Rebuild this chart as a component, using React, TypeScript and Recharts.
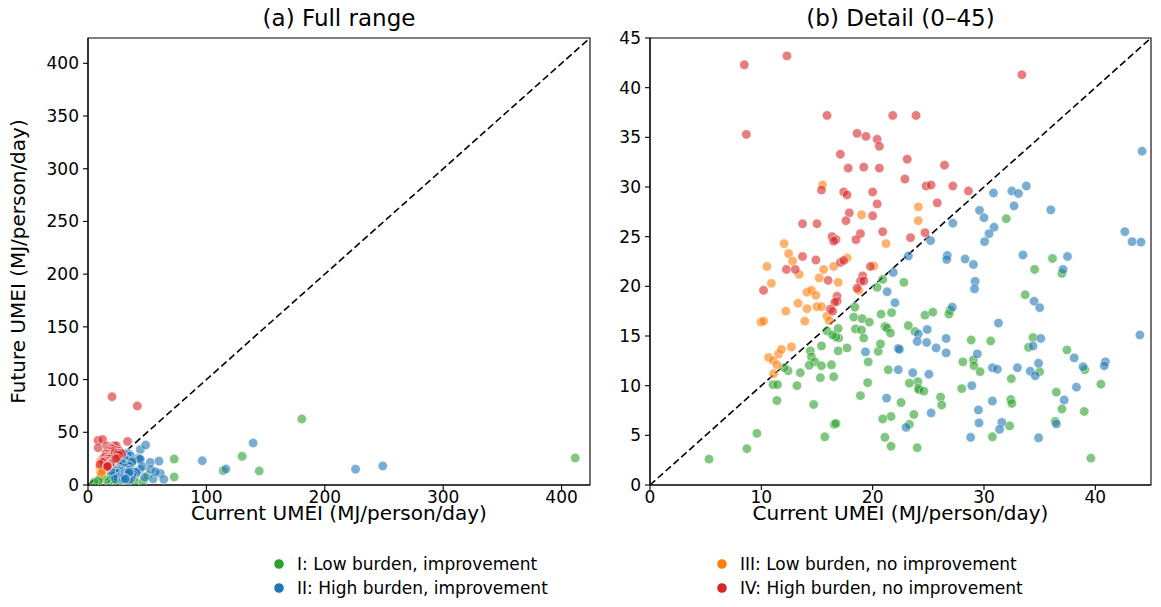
import React from 'react';
import { ScatterChart, Scatter, XAxis, YAxis, ReferenceLine, ReferenceArea } from 'recharts';

const FONT = '"DejaVu Sans", Verdana, sans-serif';

// Current vs future UMEI (MJ/person/day), one array per quadrant group: [current, future]
const lowBurdenImprovement: [number, number][] = [
  [18.4, 17.9], [20.75, 17.2], [21.7, 17.35], [18.3, 16.9], [19.05, 16.75], [19.7, 16.4],
  [18.45, 15.7], [19.0, 15.6], [19.2, 14.8], [21.1, 15.95], [21.3, 15.8], [21.6, 15.3],
  [20.9, 20.7], [20.4, 19.9], [15.9, 15.5], [16.9, 15.75], [16.95, 14.8], [16.7, 14.9],
  [16.4, 15.1], [15.4, 14.0], [14.4, 13.5], [14.5, 12.9], [14.8, 12.4], [14.3, 12.05],
  [15.4, 12.0], [16.3, 12.1], [16.5, 10.9], [15.3, 10.8], [16.9, 13.5], [17.7, 13.8],
  [20.5, 13.45], [20.7, 14.2], [19.6, 12.4], [21.4, 11.6], [19.55, 10.3], [18.9, 9.0],
  [22.55, 8.3], [21.65, 6.9], [20.9, 6.65], [21.1, 4.8], [21.65, 3.9], [16.55, 6.1],
  [16.7, 6.2], [15.7, 4.85], [14.7, 8.1], [13.2, 10.0], [13.5, 11.3], [12.4, 11.5],
  [12.05, 11.8], [11.05, 10.1], [11.45, 10.1], [11.4, 8.5], [9.6, 5.2], [8.7, 3.65],
  [5.3, 2.6], [32.0, 26.8], [36.15, 22.8], [22.8, 20.4], [34.55, 21.7], [37.0, 21.3],
  [33.7, 19.15], [26.95, 17.6], [26.85, 17.2], [24.7, 17.1], [25.4, 17.4], [23.2, 16.05],
  [23.8, 15.45], [28.85, 14.6], [30.6, 14.5], [34.4, 14.85], [34.0, 13.85], [37.45, 13.6],
  [39.05, 11.6], [40.5, 10.15], [36.5, 9.35], [37.0, 7.65], [39.0, 7.4], [36.4, 6.4],
  [39.6, 2.7], [24.05, 10.4], [24.1, 9.75], [24.15, 9.6], [23.3, 10.25], [24.6, 9.45],
  [26.1, 8.85], [26.2, 8.05], [23.7, 7.1], [23.3, 6.1], [24.0, 3.75], [28.0, 9.7],
  [28.1, 12.4], [29.05, 12.6], [29.1, 12.0], [29.65, 11.4], [32.45, 10.7], [35.0, 11.4],
  [32.4, 8.6], [32.5, 8.2], [32.3, 5.95], [30.75, 4.85],
  [46.5, 3.5], [50.5, 9.0], [72.8, 24.6], [72.8, 7.6], [114.2, 13.6], [130.2, 27.2],
  [144.6, 13.3], [180.6, 62.6], [411.5, 25.6],
];

const highBurdenImprovement: [number, number][] = [
  [44.2, 33.6], [33.8, 30.1], [32.5, 29.6], [33.1, 29.35], [30.85, 29.4], [32.7, 28.1],
  [29.6, 27.65], [30.0, 26.9], [36.0, 27.7], [30.9, 25.95], [30.45, 25.3], [30.05, 24.5],
  [27.2, 26.35], [25.2, 24.6], [42.65, 25.5], [43.3, 24.5], [44.1, 24.45], [33.5, 23.15],
  [37.5, 23.0], [26.7, 23.1], [26.65, 22.7], [28.3, 22.75], [23.2, 23.05], [21.85, 21.4],
  [21.3, 19.45], [22.0, 18.35], [29.05, 22.2], [37.1, 21.7], [29.2, 20.5], [29.15, 19.75],
  [34.5, 18.5], [35.0, 17.85], [27.15, 17.9], [31.3, 16.3], [24.1, 15.2], [24.9, 15.65],
  [24.0, 14.45], [24.85, 14.35], [25.7, 13.8], [26.6, 14.75], [26.6, 13.3], [29.4, 13.2],
  [35.1, 14.75], [34.4, 14.0], [44.0, 15.1], [38.1, 12.8], [38.9, 11.9], [40.9, 12.4],
  [40.8, 12.0], [38.3, 9.85], [37.2, 8.55], [36.5, 6.15], [34.9, 4.75], [22.3, 13.75],
  [22.4, 13.65], [22.3, 11.6], [23.6, 11.3], [25.05, 11.15], [21.25, 8.75], [25.25, 7.25],
  [23.0, 5.8], [28.8, 4.8], [29.5, 7.55], [29.55, 6.25], [28.9, 10.0], [30.75, 11.8],
  [31.2, 11.65], [30.75, 8.45], [33.0, 11.8], [34.15, 11.45], [34.6, 11.0], [34.9, 12.25],
  [31.6, 6.3], [31.4, 5.6], [19.35, 13.4],
  [48.7, 37.9], [46.0, 17.5], [52.6, 21.5], [52.9, 14.9], [60.0, 22.7], [61.0, 11.0],
  [64.0, 5.4], [55.0, 5.7], [48.0, 7.3], [57.0, 12.5], [96.5, 23.0], [116.5, 15.2],
  [139.5, 39.8], [226.0, 15.0], [249.0, 18.0],
];

const lowBurdenNoImprovement: [number, number][] = [
  [15.5, 30.2], [19.0, 27.2], [21.2, 24.3], [12.05, 24.3], [12.45, 23.3], [17.7, 22.85],
  [24.1, 28.0], [24.1, 26.6], [12.8, 22.55], [16.5, 22.0], [15.6, 21.7], [10.5, 22.0],
  [13.4, 21.2], [15.2, 20.85], [16.9, 20.4], [20.1, 22.05], [18.75, 19.6], [10.9, 20.3],
  [14.1, 19.4], [14.5, 19.6], [14.9, 19.1], [13.3, 18.3], [14.1, 17.75], [15.0, 17.95],
  [15.4, 17.95], [12.2, 17.5], [15.9, 17.0], [16.1, 16.55], [13.9, 16.5], [9.97, 16.4],
  [10.2, 16.5], [10.65, 12.85], [11.05, 12.55], [11.4, 12.1], [11.55, 13.2], [11.8, 13.65],
  [12.7, 13.9], [11.1, 11.2],
];

const highBurdenNoImprovement: [number, number][] = [
  [8.47, 42.3], [12.3, 43.2], [8.65, 35.3], [15.9, 37.2], [21.8, 37.2], [23.9, 37.2],
  [18.6, 35.4], [19.4, 35.1], [20.4, 34.8], [20.6, 34.1], [17.1, 33.3], [17.8, 31.9],
  [19.2, 32.0], [20.6, 31.9], [15.4, 29.7], [17.4, 29.5], [17.7, 29.2], [20.0, 29.5],
  [20.4, 28.3], [17.9, 27.4], [20.0, 27.1], [17.6, 26.6], [13.7, 26.3], [15.0, 26.3],
  [18.9, 25.3], [20.9, 25.5], [16.35, 25.0], [16.7, 24.7], [16.5, 24.55], [18.5, 24.7],
  [13.7, 23.0], [14.9, 22.65], [17.1, 22.4], [17.4, 22.6], [12.25, 21.7], [13.05, 21.7],
  [16.0, 20.6], [19.8, 22.0], [19.1, 21.05], [18.9, 20.5], [19.2, 20.55], [18.6, 19.8],
  [10.2, 19.6], [16.8, 19.0], [16.8, 18.5], [16.6, 18.4], [16.2, 17.7], [16.4, 17.5],
  [33.4, 41.3], [23.1, 32.8], [26.45, 32.2], [22.9, 30.8], [24.8, 30.1], [25.25, 30.2],
  [27.2, 30.1], [28.6, 29.6], [25.8, 28.4], [24.7, 25.4], [23.4, 24.9],
  [20.3, 83.7], [41.6, 74.9],
];

const SERIES = [
  { name: 'I: Low burden, improvement', color: '#2ca02c', points: lowBurdenImprovement },
  { name: 'II: High burden, improvement', color: '#1f77b4', points: highBurdenImprovement },
  { name: 'III: Low burden, no improvement', color: '#ff7f0e', points: lowBurdenNoImprovement },
  { name: 'IV: High burden, no improvement', color: '#d62728', points: highBurdenNoImprovement },
];

const FULL_MAX = 424;
const DETAIL_MAX = 45;
const fullTicksX = [0, 100, 200, 300, 400];
const fullTicksY = [0, 50, 100, 150, 200, 250, 300, 350, 400];
const detailTicksX = [0, 10, 20, 30, 40];
const detailTicksY = [0, 5, 10, 15, 20, 25, 30, 35, 40, 45];

const AXIS_TITLE = 'Current UMEI (MJ/person/day)';
const Y_TITLE = 'Future UMEI (MJ/person/day)';

const axisStroke = { stroke: '#000', strokeWidth: 1.1 };
const tickStyle = { fill: '#000', fontSize: 17, fontFamily: FONT };

type PanelProps = {
  left: number;
  width: number;
  max: number;
  ticksX: number[];
  ticksY: number[];
  yAxisWidth: number;
  marginLeft: number;
};

function Panel({ left, width, max, ticksX, ticksY, yAxisWidth, marginLeft }: PanelProps) {
  return (
    <div style={{ position: 'absolute', left, top: 0 }}>
      <ScatterChart
        width={width}
        height={607}
        margin={{ top: 38, right: 10, bottom: 92, left: marginLeft }}
      >
        <XAxis
          type="number"
          dataKey="x"
          domain={[0, max]}
          ticks={ticksX}
          interval={0}
          allowDataOverflow
          height={30}
          tickSize={5}
          tickMargin={1}
          axisLine={axisStroke}
          tickLine={axisStroke}
          tick={tickStyle}
        />
        <YAxis
          type="number"
          dataKey="y"
          domain={[0, max]}
          ticks={ticksY}
          interval={0}
          allowDataOverflow
          width={yAxisWidth}
          tickSize={5}
          tickMargin={4}
          axisLine={axisStroke}
          tickLine={axisStroke}
          tick={tickStyle}
        />
        {SERIES.map((s) => (
          <Scatter
            key={s.name}
            name={s.name}
            data={s.points
              .filter(([x, y]) => x <= max && y <= max)
              .map(([x, y]) => ({ x, y }))}
            fill={s.color}
            isAnimationActive={false}
            shape={(p: any) => (
              <circle
                cx={p.cx}
                cy={p.cy}
                r={4.7}
                fill={s.color}
                fillOpacity={0.6}
                stroke="#fff"
                strokeOpacity={0.6}
                strokeWidth={0.8}
              />
            )}
          />
        ))}
        <ReferenceLine
          segment={[{ x: 0, y: 0 }, { x: max, y: max }]}
          stroke="#000"
          strokeWidth={1.6}
          strokeDasharray="7 3.5"
        />
        <ReferenceArea
          x1={0}
          x2={max}
          y1={0}
          y2={max}
          fill="none"
          fillOpacity={0}
          stroke="#000"
          strokeWidth={1.1}
        />
      </ScatterChart>
    </div>
  );
}

export default function App() {
  const legendCols = [
    [SERIES[0], SERIES[1]],
    [SERIES[2], SERIES[3]],
  ];
  const colX = [279, 722];
  const rowY = [564, 588];
  return (
    <div
      style={{
        position: 'absolute',
        left: 0,
        top: 0,
        width: 1161,
        height: 607,
        background: '#fff',
        fontFamily: FONT,
        overflow: 'hidden',
      }}
    >
      <Panel left={0} width={600} max={FULL_MAX} ticksX={fullTicksX} ticksY={fullTicksY} yAxisWidth={60} marginLeft={28} />
      <Panel left={580} width={581} max={DETAIL_MAX} ticksX={detailTicksX} ticksY={detailTicksY} yAxisWidth={50} marginLeft={20} />
      <svg
        width={1161}
        height={607}
        style={{ position: 'absolute', left: 0, top: 0, pointerEvents: 'none' }}
        fontFamily={FONT}
      >
        <text x={339} y={26} textAnchor="middle" fontSize={23} fill="#000">(a) Full range</text>
        <text x={900.5} y={26} textAnchor="middle" fontSize={23} fill="#000">(b) Detail (0–45)</text>
        <text x={339} y={520} textAnchor="middle" fontSize={20} fill="#000">{AXIS_TITLE}</text>
        <text x={900.5} y={520} textAnchor="middle" fontSize={20} fill="#000">{AXIS_TITLE}</text>
        <text
          x={0}
          y={0}
          transform="translate(25 261.5) rotate(-90)"
          textAnchor="middle"
          fontSize={20}
          fill="#000"
        >
          {Y_TITLE}
        </text>
        {legendCols.map((col, ci) =>
          col.map((s, ri) => (
            <g key={s.name}>
              <circle cx={colX[ci]} cy={rowY[ri]} r={5.2} fill={s.color} stroke="#fff" strokeWidth={0.8} />
              <text x={colX[ci] + 18} y={rowY[ri] + 6} fontSize={17} fill="#000">
                {s.name}
              </text>
            </g>
          ))
        )}
      </svg>
    </div>
  );
}
